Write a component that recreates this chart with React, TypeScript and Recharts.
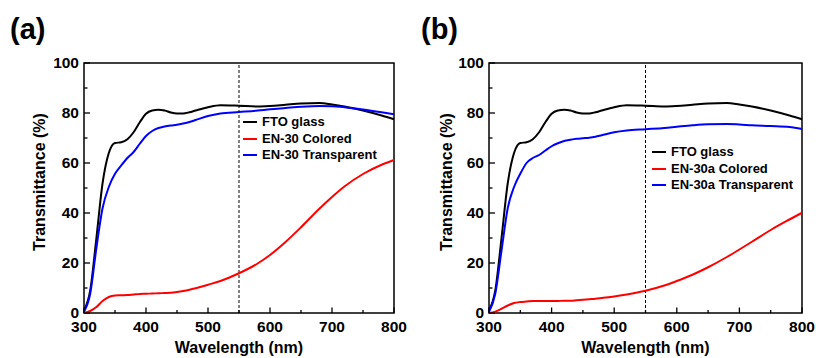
import { LineChart, Line, XAxis, YAxis, ReferenceLine, ReferenceArea, Legend } from "recharts";

const wavelength = [300, 310, 320, 330, 340, 350, 360, 370, 380, 390, 400, 410, 420, 430, 440, 450, 460, 470, 480, 500, 520, 550, 580, 600, 625, 650, 680, 700, 720, 750, 780, 800];

const ftoGlass = [1, 9, 30, 52, 64, 68, 68.3, 69.5, 72.3, 76.3, 79.7, 81, 81.3, 81, 80.2, 79.8, 79.8, 80.3, 81, 82.3, 83.1, 82.9, 82.6, 82.8, 83.3, 83.8, 84, 83.4, 82.6, 81, 79, 77.5];

const en30Colored = [0, 0.8, 2.4, 4.8, 6.4, 7, 7.1, 7.2, 7.4, 7.6, 7.7, 7.8, 7.9, 8, 8.1, 8.4, 8.8, 9.3, 9.9, 11.3, 12.8, 15.9, 19.8, 23.2, 28.4, 34.3, 41.8, 46.4, 50.6, 55.6, 59.3, 61.2];
const en30Transparent = [0.5, 7.7, 26, 42, 50.4, 55.7, 59, 62, 64.4, 67.7, 70.8, 72.8, 74, 74.6, 75, 75.3, 75.8, 76.4, 77.2, 78.8, 79.8, 80.4, 81, 81.5, 82, 82.5, 82.8, 82.7, 82.3, 81.4, 80.3, 79.5];

const en30aColored = [0, 0.5, 1.7, 3, 4, 4.4, 4.6, 4.8, 4.8, 4.8, 4.8, 4.8, 4.9, 4.9, 5.1, 5.3, 5.5, 5.7, 6, 6.6, 7.4, 8.9, 11, 12.8, 15.3, 18.3, 22.4, 25.4, 28.5, 33.2, 37.4, 40.1];
const en30aTransparent = [0.5, 7.7, 25, 42, 50.4, 55.7, 60, 62, 63.2, 65, 66.7, 67.9, 68.8, 69.3, 69.7, 69.9, 70.1, 70.5, 71.1, 72.3, 73, 73.5, 74, 74.5, 75.1, 75.5, 75.6, 75.4, 75.1, 74.8, 74.4, 73.6];

const xTicks = [300, 350, 400, 450, 500, 550, 600, 650, 700, 750, 800];
const yTicks = [0, 10, 20, 30, 40, 50, 60, 70, 80, 90, 100];

const FONT = "'Liberation Sans', Arial, sans-serif";

const XTick = (props: any) => {
  const { x, y, payload } = props;
  const v = payload.value;
  const major = v % 100 === 0;
  return (
    <g>
      <line x1={x} x2={x} y1={y} y2={y - (major ? 5.5 : 3)} stroke="#000" strokeWidth={1.3} />
      {major && (
        <text x={x} y={y + 18.5} textAnchor="middle" fontFamily={FONT} fontWeight="bold" fontSize={15.5} fill="#000">
          {v}
        </text>
      )}
    </g>
  );
};

const YTick = (props: any) => {
  const { x, y, payload } = props;
  const v = payload.value;
  const major = v % 20 === 0;
  return (
    <g>
      <line x1={x} x2={x + (major ? 6 : 3.5)} y1={y} y2={y} stroke="#000" strokeWidth={1.3} />
      {major && (
        <text x={x - 5} y={y} dy="0.34em" textAnchor="end" fontFamily={FONT} fontWeight="bold" fontSize={15.5} fill="#000">
          {v}
        </text>
      )}
    </g>
  );
};

const LegendBox = ({ items }: { items: { name: string; color: string }[] }) => (
  <div style={{ fontFamily: FONT, fontWeight: "bold", fontSize: 13, lineHeight: "16.5px", color: "#000" }}>
    {items.map((it) => (
      <div key={it.name} style={{ display: "flex", alignItems: "center", whiteSpace: "nowrap" }}>
        <span style={{ display: "inline-block", width: 14, height: 2, background: it.color, marginRight: 5 }} />
        {it.name}
      </div>
    ))}
  </div>
);

function Panel({ tag, colored, transparent, names, left, legendPos }: any) {
  const data = wavelength.map((w, i) => ({ w, fto: ftoGlass[i], col: colored[i], tr: transparent[i] }));
  const items = [
    { name: "FTO glass", color: "#000000" },
    { name: names[0], color: "#ff0000" },
    { name: names[1], color: "#0000ff" },
  ];
  const plotL = left + 40;
  const plotR = 394;
  return (
    <div style={{ position: "absolute", left: tag === "(a)" ? 0 : 408, top: 0, width: 408, height: 358 }}>
      <LineChart width={408} height={358} data={data} margin={{ top: 63, right: 408 - plotR, bottom: 15, left }}>
        <XAxis
          dataKey="w"
          type="number"
          domain={[300, 800]}
          ticks={xTicks}
          interval={0}
          axisLine={false}
          tickLine={false}
          tickSize={0}
          tickMargin={0}
          height={30}
          tick={<XTick />}
        />
        <YAxis
          type="number"
          domain={[0, 100]}
          ticks={yTicks}
          interval={0}
          axisLine={false}
          tickLine={false}
          tickSize={0}
          tickMargin={0}
          width={40}
          tick={<YTick />}
        />
        <ReferenceLine x={550} stroke="#000" strokeWidth={1} strokeDasharray="3 2" />
        <Line type="monotone" dataKey="fto" stroke="#000000" strokeWidth={2} dot={false} isAnimationActive={false} />
        <Line type="monotone" dataKey="col" stroke="#ff0000" strokeWidth={2} dot={false} isAnimationActive={false} />
        <Line type="monotone" dataKey="tr" stroke="#0000ff" strokeWidth={2} dot={false} isAnimationActive={false} />
        <ReferenceArea x1={300} x2={800} y1={0} y2={100} fill="none" stroke="#000" strokeWidth={1.5} ifOverflow="visible" />
        <Legend
          layout="vertical"
          align="center"
          verticalAlign="middle"
          wrapperStyle={{ left: legendPos[0], top: legendPos[1], width: "auto" }}
          content={() => <LegendBox items={items} />}
        />
      </LineChart>
      <svg width={408} height={358} style={{ position: "absolute", left: 0, top: 0, pointerEvents: "none" }}>
        <text x={tag === "(a)" ? 10 : 13} y={39} fontFamily={FONT} fontWeight="bold" fontSize={29} fill="#000">
          {tag}
        </text>
        <text
          x={(plotL + plotR) / 2}
          y={353}
          textAnchor="middle"
          fontFamily={FONT}
          fontWeight="bold"
          fontSize={16}
          fill="#000"
        >
          Wavelength (nm)
        </text>
        <text
          transform={`translate(${tag === "(a)" ? 45 : 44}, 182) rotate(-90)`}
          textAnchor="middle"
          fontFamily={FONT}
          fontWeight="bold"
          fontSize={16}
          fill="#000"
        >
          Transmittance (%)
        </text>
      </svg>
    </div>
  );
}

export default function App() {
  return (
    <div style={{ position: "absolute", left: 0, top: 0, width: 816, height: 358, background: "#fff" }}>
      <Panel tag="(a)" colored={en30Colored} transparent={en30Transparent} names={["EN-30 Colored", "EN-30 Transparent"]} left={44} legendPos={[243, 114]} />
      <Panel tag="(b)" colored={en30aColored} transparent={en30aTransparent} names={["EN-30a Colored", "EN-30a Transparent"]} left={41} legendPos={[244, 144]} />
    </div>
  );
}
